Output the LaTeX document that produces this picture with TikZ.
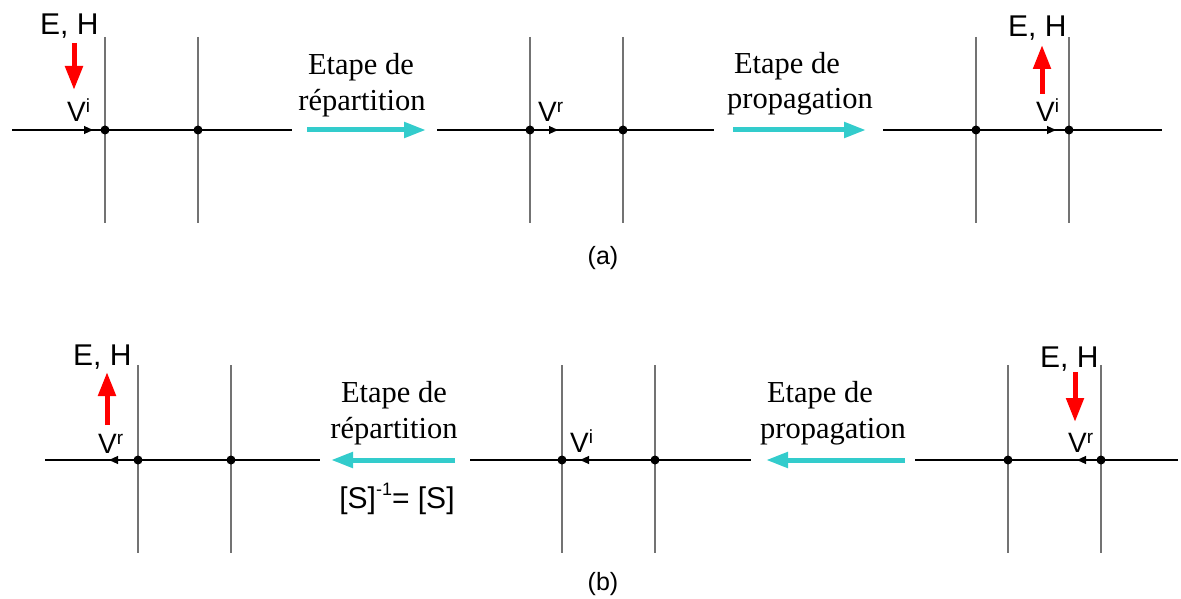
\documentclass[tikz,border=0pt]{standalone}
\usepackage{fontspec}
\setmainfont{Liberation Serif}
\setsansfont{Liberation Sans}
\usetikzlibrary{arrows.meta}
\definecolor{turq}{HTML}{33CCCC}
\newcommand{\supx}[1]{\raisebox{9pt}{\fontsize{19}{19}\selectfont #1}}
\begin{document}
\begin{tikzpicture}[x=1pt,y=-1pt,
  hline/.style={line width=1.1pt, black},
  vline/.style={line width=1.3pt, black!55},
  junction/.style={circle, fill=black, inner sep=0pt, minimum size=9pt},
  smalltip/.style={-{Triangle[length=9pt,width=8pt]}, line width=1.1pt, black},
  redarrow/.style={-{Triangle[length=24pt,width=17pt]}, line width=5pt, red},
  cyanarrow/.style={-{Triangle[length=22pt,width=15pt]}, line width=5pt, turq},
  ehlab/.style={font=\sffamily\fontsize{30}{32}\selectfont, inner sep=0pt, anchor=base west},
  vlab/.style={font=\sffamily\fontsize{28}{30}\selectfont, inner sep=0pt, anchor=base west},
  etext/.style={font=\fontsize{30.5}{34}\selectfont, inner sep=0pt, anchor=base},
  caplab/.style={font=\sffamily\fontsize{25}{28}\selectfont, inner sep=0pt}
]
\useasboundingbox (0,0) rectangle (1181,599);

% grids
\foreach \n/\y/\yt/\yb/\xl/\xr/\va/\vb in {
  a1/130/37/223/12/292/105/198,
  a2/130/37/223/437/714/530/623,
  a3/130/37/223/883/1162/976/1069,
  b1/460/365/553/45/320/138/231,
  b2/460/365/553/470/751/562/655,
  b3/460/365/553/915/1178/1008/1101}{
  \coordinate (\n L) at (\xl,\y);
  \coordinate (\n R) at (\xr,\y);
  \coordinate (\n at) at (\va,\yt);
  \coordinate (\n ab) at (\va,\yb);
  \coordinate (\n bt) at (\vb,\yt);
  \coordinate (\n bb) at (\vb,\yb);
  \draw[vline] (\n at) -- (\n ab);
  \draw[vline] (\n bt) -- (\n bb);
  \draw[hline] (\n L) -- (\n R);
  \node[junction] (\n j1) at (\va,\y) {};
  \node[junction] (\n j2) at (\vb,\y) {};
}

% small direction tips on the lines
\coordinate (ta1s) at (83,130);   \coordinate (ta1e) at (93,130);
\coordinate (ta2s) at (548,130);  \coordinate (ta2e) at (558,130);
\coordinate (ta3s) at (1046,130); \coordinate (ta3e) at (1056,130);
\coordinate (tb1s) at (119,460);  \coordinate (tb1e) at (109,460);
\coordinate (tb2s) at (590,460);  \coordinate (tb2e) at (580,460);
\coordinate (tb3s) at (1087,460); \coordinate (tb3e) at (1077,460);
\foreach \t in {ta1,ta2,ta3,tb1,tb2,tb3}{\draw[smalltip] (\t s) -- (\t e);}

% E, H labels and red arrows
\node[ehlab] (eh1) at (40,35) {E, H};
\node[ehlab] (eh2) at (1008,37) {E, H};
\node[ehlab] (eh3) at (73,365) {E, H};
\node[ehlab] (eh4) at (1040,367) {E, H};

\coordinate (r1s) at (74,43);   \coordinate (r1e) at (74,90);
\coordinate (r2s) at (1042,94); \coordinate (r2e) at (1042,45);
\coordinate (r3s) at (107,425); \coordinate (r3e) at (107,372);
\coordinate (r4s) at (1075,372);\coordinate (r4e) at (1075,422);
\foreach \r in {r1,r2,r3,r4}{\draw[redarrow] (\r s) -- (\r e);}

% V labels
\node[vlab] (v1) at (67,122) {V\supx{i}};
\node[vlab] (v2) at (538,122) {V\supx{r}};
\node[vlab] (v3) at (1036,122) {V\supx{i}};
\node[vlab] (v4) at (98,453) {V\supx{r}};
\node[vlab] (v5) at (570,452) {V\supx{i}};
\node[vlab] (v6) at (1068,452) {V\supx{r}};

% cyan step arrows
\coordinate (c1s) at (307,130); \coordinate (c1e) at (426,130);
\coordinate (c2s) at (733,130); \coordinate (c2e) at (866,130);
\coordinate (c3s) at (455,460); \coordinate (c3e) at (331,460);
\coordinate (c4s) at (905,460); \coordinate (c4e) at (766,460);
\foreach \c in {c1,c2,c3,c4}{\draw[cyanarrow] (\c s) -- (\c e);}

% step texts
\node[etext] (e1a) at (361,75) {Etape de};
\node[etext] (e1b) at (362,111) {répartition};
\node[etext] (e2a) at (787,74) {Etape de};
\node[etext] (e2b) at (800,109) {propagation};
\node[etext] (e3a) at (394,402) {Etape de};
\node[etext] (e3b) at (394,438) {répartition};
\node[etext] (e4a) at (820,402) {Etape de};
\node[etext] (e4b) at (833,438) {propagation};

\node[font=\sffamily\fontsize{30}{32}\selectfont, inner sep=0pt, anchor=base] (sinv) at (397,508)
  {[S]\raisebox{13pt}{\fontsize{18}{18}\selectfont -1}= [S]};

% captions
\node[caplab] (capa) at (603,258) {(a)};
\node[caplab] (capb) at (603,584) {(b)};
\end{tikzpicture}
\end{document}
